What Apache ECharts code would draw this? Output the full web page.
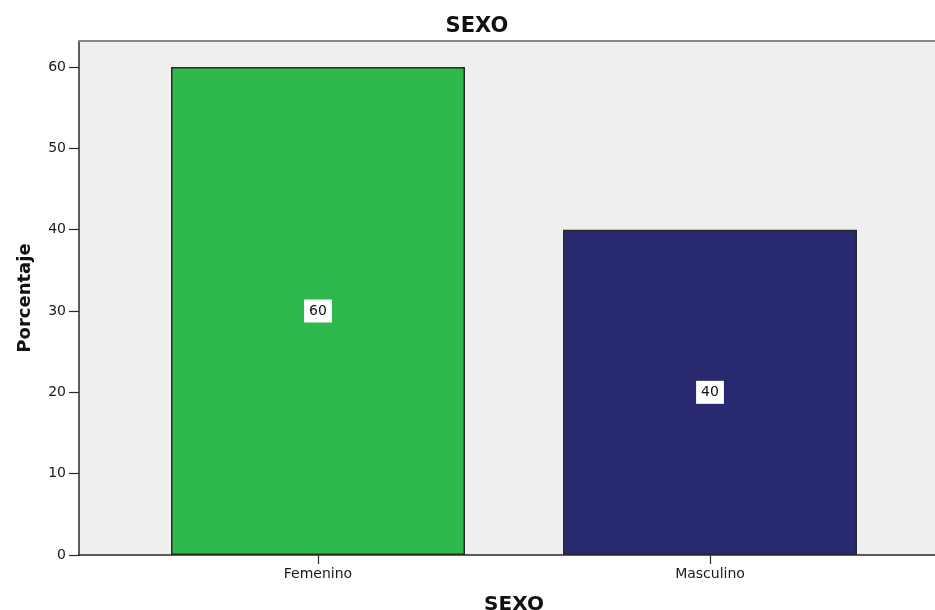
<!DOCTYPE html>
<html>
<head>
<meta charset="utf-8">
<script src="https://cdn.jsdelivr.net/npm/echarts@6/dist/echarts.min.js"></script>
<style>
  html, body { margin: 0; padding: 0; background: #ffffff; }
  #chart { width: 935px; height: 610px; }
</style>
</head>
<body>
<div id="chart"></div>
<script>
// Distribución por sexo (porcentaje)
const categories = ['Femenino', 'Masculino'];
const porcentajes = [60, 40];
const barColors = ['#2fb84b', '#29296f'];
const yTicks = [0, 10, 20, 30, 40, 50, 60];
const yMax = 63.2;

const FONT = 'DejaVu Sans';

const chart = echarts.init(document.getElementById('chart'), null, { renderer: 'canvas' });

chart.setOption({
  backgroundColor: '#ffffff',
  animation: false,
  title: {
    text: 'SEXO',
    left: 472,
    top: 11,
    textAlign: 'center',
    textStyle: { fontFamily: FONT, fontWeight: 'bold', fontSize: 21, color: '#111' }
  },
  grid: [
    // full plotting frame with grey background and the value axis
    { left: 79, right: 0, top: 41, bottom: 55, show: true, backgroundColor: '#efefef', borderWidth: 0, outerBoundsMode: 'none', containLabel: false },
    // inner band holding the two category bars
    { left: 122, right: 29, top: 41, bottom: 55, outerBoundsMode: 'none', containLabel: false }
  ],
  xAxis: [
    {
      gridIndex: 0, type: 'value', position: 'top', min: 0, max: 1,
      axisLine: { show: true, onZero: false, lineStyle: { color: '#888888', width: 2 } },
      axisTick: { show: false }, axisLabel: { show: false }, splitLine: { show: false }
    },
    {
      gridIndex: 0, type: 'value', position: 'bottom', min: 0, max: 1,
      axisLine: { show: true, onZero: false, lineStyle: { color: '#2a2a2a', width: 1.5 } },
      axisTick: { show: false }, axisLabel: { show: false }, splitLine: { show: false }
    },
    {
      gridIndex: 1, type: 'category', position: 'bottom', data: categories,
      name: 'SEXO', nameLocation: 'middle', nameGap: 40,
      nameTextStyle: { fontFamily: FONT, fontWeight: 'bold', fontSize: 20, color: '#111' },
      axisLine: { show: false, onZero: false },
      axisTick: { show: true, alignWithLabel: true, length: 9, lineStyle: { color: '#2a2a2a', width: 1.2 } },
      axisLabel: { fontFamily: FONT, fontSize: 14, color: '#1a1a1a', margin: 12 }
    }
  ],
  yAxis: [
    {
      gridIndex: 0, type: 'value', min: 0, max: yMax,
      name: 'Porcentaje', nameLocation: 'middle', nameGap: 45, nameRotate: 90,
      nameTextStyle: { fontFamily: FONT, fontWeight: 'bold', fontSize: 18, color: '#111' },
      axisLine: { show: true, onZero: false, lineStyle: { color: '#2a2a2a', width: 1.5 } },
      axisTick: { show: true, length: 10, customValues: yTicks, lineStyle: { color: '#2a2a2a', width: 1.2 } },
      axisLabel: { fontFamily: FONT, fontSize: 14, color: '#1a1a1a', margin: 13, customValues: yTicks },
      splitLine: { show: false }
    },
    {
      gridIndex: 1, type: 'value', min: 0, max: yMax, show: false,
      splitLine: { show: false }
    }
  ],
  series: [
    {
      type: 'bar',
      xAxisIndex: 2,
      yAxisIndex: 1,
      barWidth: '75%',
      data: porcentajes.map((v, i) => ({
        value: v,
        itemStyle: { color: barColors[i] }
      })),
      itemStyle: { borderColor: '#2a2a2a', borderWidth: 1.5 },
      label: {
        show: true,
        position: 'inside',
        fontFamily: FONT,
        fontSize: 14,
        color: '#111',
        backgroundColor: '#ffffff',
        padding: [5, 5, 4, 5]
      }
    }
  ]
});
</script>
</body>
</html>
